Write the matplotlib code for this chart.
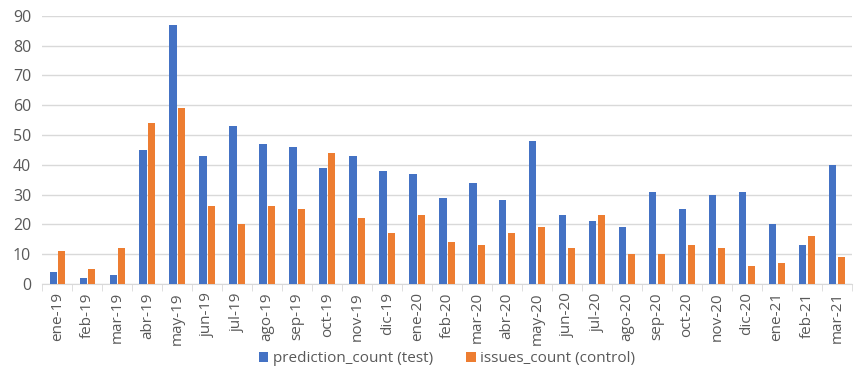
import numpy as np
import matplotlib
matplotlib.use("Agg")
import matplotlib.pyplot as plt

months = ["ene-19", "feb-19", "mar-19", "abr-19", "may-19", "jun-19", "jul-19",
          "ago-19", "sep-19", "oct-19", "nov-19", "dic-19", "ene-20", "feb-20",
          "mar-20", "abr-20", "may-20", "jun-20", "jul-20", "ago-20", "sep-20",
          "oct-20", "nov-20", "dic-20", "ene-21", "feb-21", "mar-21"]
prediction_count = [4, 2, 3, 45, 87, 43, 53, 47, 46, 39, 43, 38, 37, 29,
                    34, 28, 48, 23, 21, 19, 31, 25, 30, 31, 20, 13, 40]
issues_count = [11, 5, 12, 54, 59, 26, 20, 26, 25, 44, 22, 17, 23, 14,
                13, 17, 19, 12, 23, 10, 10, 13, 12, 6, 7, 16, 9]

plt.rcParams['font.family'] = ['Open Sans', 'DejaVu Sans']
grey = "#595959"

fig = plt.figure(figsize=(8.64, 3.78), dpi=100)
ax = fig.add_axes([0.049, 0.249, 0.937, 0.709])

x = np.arange(len(months))
w = 0.24
ax.bar(x - 0.14, prediction_count, w, color="#4472C4", label="prediction_count (test)", zorder=3)
ax.bar(x + 0.14, issues_count, w, color="#ED7D31", label="issues_count (control)", zorder=3)

ax.set_xlim(-0.5, len(months) - 0.5)
ax.set_ylim(0, 90)
ax.set_yticks(range(0, 91, 10))
ax.yaxis.grid(True, color="#D9D9D9", linewidth=1, zorder=0)
ax.set_xticks(x)
ax.set_xticklabels(months, rotation=90, fontsize=11, color=grey)
ax.tick_params(axis="x", which="major", length=0, pad=6)
ax.set_xticks(np.arange(-0.5, len(months), 1), minor=True)
ax.tick_params(axis="x", which="minor", length=5, color="#D9D9D9")
ax.tick_params(axis="y", length=0, labelsize=11.5, labelcolor=grey, pad=8)
for s in ["top", "right", "left"]:
    ax.spines[s].set_visible(False)
ax.spines["bottom"].set_color("#D9D9D9")

ax.legend(loc="upper center", bbox_to_anchor=(0.5, -0.2), ncol=2, frameon=False,
          fontsize=11, labelcolor=grey, handlelength=0.6, handleheight=0.7,
          columnspacing=2.2, handletextpad=0.3)

fig.savefig("out.png", dpi=100)
